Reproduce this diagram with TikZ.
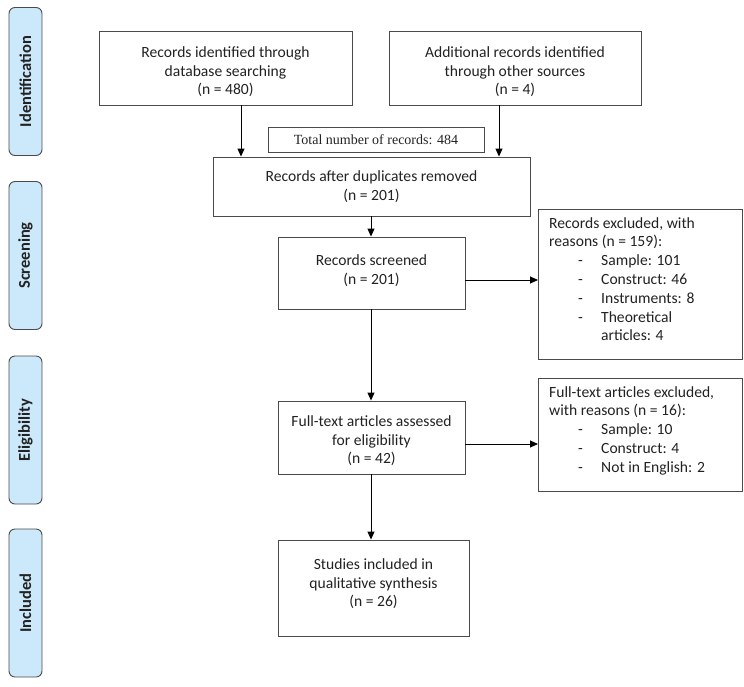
\documentclass[tikz,border=0pt]{standalone}
\usepackage{fontspec}
\setmainfont{Carlito}
\newfontfamily\serifx{Liberation Serif}
\usetikzlibrary{arrows.meta,positioning}
\definecolor{sidefill}{HTML}{CCE9FB}
\definecolor{boxline}{HTML}{4A4A4A}
\definecolor{txt}{HTML}{222222}
\newcommand\rsn[1]{\hspace*{29pt}\makebox[23pt][l]{-}#1}
\begin{document}
\begin{tikzpicture}[x=1pt,y=-1pt,
  every node/.style={font=\fontsize{15.6}{18.5}\selectfont,text=txt},
  box/.style={draw=boxline,line width=0.9pt,align=center,inner sep=0pt},
  side/.style={draw=boxline,fill=sidefill,rounded corners=6pt,line width=0.9pt,
    minimum width=148pt,minimum height=33pt,rotate=90,
    font=\fontsize{16.5}{18}\selectfont\bfseries},
  arr/.style={-{Triangle[length=8pt,width=7pt]},line width=0.9pt,draw=black}]
\useasboundingbox (0,0) rectangle (744,686);
% side labels
\node[side] (sid) at (25.5,81.5) {Identification};
\node[side] (scr) at (25.5,255.5) {Screening};
\node[side] (eli) at (25.5,430) {Eligibility};
\node[side] (inc) at (25.5,603) {Included};
% main boxes
\node[box,minimum width=253pt,minimum height=74pt] (db) at (225.5,68)
  {};
\node[align=center] (dbt) at (225.5,72)
  {Records identified through\\database searching\\(n = 480)};
\node[box,minimum width=252pt,minimum height=74pt] (oth) at (515,68)
  {};
\node[align=center] (otht) at (515,72)
  {Additional records identified\\through other sources\\(n = 4)};
\node[box,minimum width=216pt,minimum height=25pt,font=\serifx\fontsize{14}{16}\selectfont] (tot) at (376,139.5)
  {Total number of records: 484};
\node[box,minimum width=317pt,minimum height=59pt] (dup) at (371.5,186.5)
  {Records after duplicates removed\\(n = 201)};
\node[box,minimum width=187pt,minimum height=72pt] (scrn) at (371.5,273)
  {};
\node[align=center] (scrnt) at (371.5,270.5)
  {Records screened\\(n = 201)};
\node[box,minimum width=204pt,minimum height=150pt,anchor=north west] (exc1) at (538,209)
  {};
\node[align=left,anchor=north west,inner sep=0pt,font=\fontsize{15.6}{18.8}\selectfont] (exc1t) at (549,217)
  {Records excluded, with\\reasons (n = 159):\\\rsn{Sample: 101}\\\rsn{Construct: 46}\\\rsn{Instruments: 8}\\\rsn{Theoretical}\\\hspace*{52pt}articles: 4};
\node[box,minimum width=187pt,minimum height=73pt] (full) at (371.5,437.5)
  {};
\node[align=center] (fullt) at (371.5,441)
  {Full-text articles assessed\\for eligibility\\(n = 42)};
\node[box,minimum width=191pt,minimum height=96pt] (stu) at (373.5,588)
  {};
\node[align=center] (stut) at (373.5,584)
  {Studies included in\\qualitative synthesis\\(n = 26)};
\node[box,minimum width=204pt,minimum height=113pt,anchor=north west] (exc2) at (538,378)
  {};
\node[align=left,anchor=north west,inner sep=0pt,font=\fontsize{15.6}{18.8}\selectfont] (exc2t) at (549,386)
  {Full-text articles excluded,\\with reasons (n = 16):\\\rsn{Sample: 10}\\\rsn{Construct: 4}\\\rsn{Not in English: 2}};
% arrows
\draw[arr] (db.south -| 241,0) -- (dup.north -| 241,0);
\draw[arr] (oth.south -| 499,0) -- (dup.north -| 499,0);
\draw[arr] (dup.south -| 371,0) -- (scrn.north -| 371,0);
\draw[arr] (scrn.east |- 0,280) -- (exc1.west |- 0,280);
\draw[arr] (scrn.south -| 371,0) -- (full.north -| 371,0);
\draw[arr] (full.east |- 0,444) -- (exc2.west |- 0,444);
\draw[arr] (full.south -| 371,0) -- (stu.north -| 371,0);
\end{tikzpicture}
\end{document}
